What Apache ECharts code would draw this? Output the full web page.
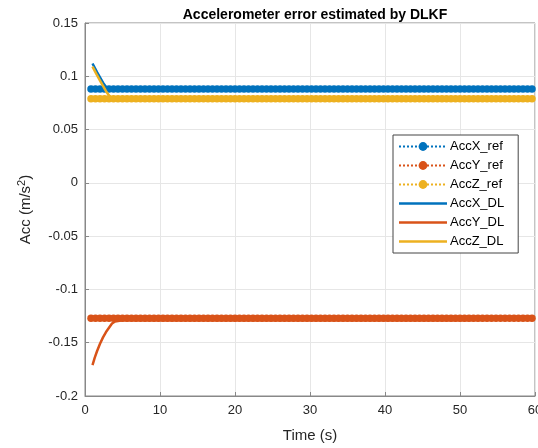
<!DOCTYPE html>
<html>
<head>
<meta charset="utf-8">
<script src="https://cdn.jsdelivr.net/npm/echarts@6/dist/echarts.min.js"></script>
<style>
html, body { margin: 0; padding: 0; background: #fff; }
#main { width: 538px; height: 448px; }
</style>
</head>
<body>
<div id="main"></div>
<script>
// reference values (constant levels)
var refX = 0.088;
var refY = -0.127;
var refZ = 0.079;
// sample times of the reference markers
var refStart = 0.8, refStep = 0.6, refEnd = 59.6;

// DL estimates: time points and values
var dlTime = [1, 1.3, 1.6, 2, 2.4, 2.8, 3.2, 3.6, 4, 5, 10, 20, 30, 40, 50, 59.6];
var dlX = [0.112, 0.108, 0.104, 0.099, 0.094, 0.090, 0.0885, 0.088, 0.088, 0.088, 0.088, 0.088, 0.088, 0.088, 0.088, 0.088];
var dlY = [-0.171, -0.164, -0.158, -0.151, -0.145, -0.140, -0.136, -0.132, -0.130, -0.129, -0.129, -0.129, -0.129, -0.129, -0.129, -0.128];
var dlZ = [0.109, 0.105, 0.101, 0.096, 0.091, 0.086, 0.082, 0.079, 0.078, 0.077, 0.077, 0.077, 0.077, 0.077, 0.077, 0.077];

var colors = ['#0072BD', '#D95319', '#EDB120'];

function refSeries(level) {
    var out = [];
    for (var t = refStart; t <= refEnd + 1e-9; t += refStep) {
        out.push([Math.round(t * 10) / 10, level]);
    }
    return out;
}
function pairs(xs, ys) {
    return xs.map(function (x, i) { return [x, ys[i]]; });
}

var myChart = echarts.init(document.getElementById('main'));

function refLine(name, level, color) {
    return {
        name: name, type: 'line', data: refSeries(level),
        symbol: 'circle', symbolSize: 7.5, showSymbol: true,
        itemStyle: { color: color },
        lineStyle: { color: color, width: 3, type: 'dotted' },
        animation: false, z: 2
    };
}
function dlLine(name, ys, color) {
    return {
        name: name, type: 'line', data: pairs(dlTime, ys),
        symbol: 'none', smooth: false,
        itemStyle: { color: color },
        lineStyle: { color: color, width: 2.5 },
        animation: false, z: 3
    };
}

var lineIcon = 'path://M0,0 L48,0 L48,2.5 L0,2.5 Z';

myChart.setOption({
    backgroundColor: '#fff',
    title: {
        text: 'Accelerometer error estimated by DLKF',
        left: 310, top: 3, textAlign: 'center',
        textStyle: { fontFamily: 'Liberation Sans', fontWeight: 'bold', fontSize: 14, color: '#000' }
    },
    grid: { left: 85, right: 3, top: 23, bottom: 52, show: true, borderColor: '#888', borderWidth: 1, outerBoundsMode: 'none', containLabel: false },
    legend: {
        orient: 'vertical', left: 393, top: 135,
        itemWidth: 48, itemHeight: 11, itemGap: 6,
        padding: [5, 14, 5, 5],
        borderColor: '#444', borderWidth: 1, backgroundColor: '#fff',
        textStyle: { fontFamily: 'Liberation Sans', fontSize: 13, color: '#000', padding: [0, 0, 0, -2] },
        data: [
            'AccX_ref', 'AccY_ref', 'AccZ_ref',
            { name: 'AccX_DL', icon: lineIcon },
            { name: 'AccY_DL', icon: lineIcon },
            { name: 'AccZ_DL', icon: lineIcon }
        ]
    },
    xAxis: {
        type: 'value', min: 0, max: 60, interval: 10,
        name: 'Time (s)', nameLocation: 'middle', nameGap: 32,
        nameTextStyle: { fontFamily: 'Liberation Sans', fontSize: 15, color: '#262626' },
        axisLine: { show: true, onZero: false, lineStyle: { color: '#888' } },
        axisTick: { show: true, inside: true, length: 4, lineStyle: { color: '#888' } },
        axisLabel: { fontFamily: 'Liberation Sans', fontSize: 13, color: '#262626', margin: 8 },
        splitLine: { show: true, lineStyle: { color: '#e6e6e6' } }
    },
    yAxis: {
        type: 'value', min: -0.2, max: 0.15, interval: 0.05,
        name: 'Acc (m/s{sup|2})', nameLocation: 'middle', nameGap: 50, nameRotate: 90,
        nameTextStyle: {
            fontFamily: 'Liberation Sans', fontSize: 15, color: '#262626',
            rich: { sup: { fontFamily: 'Liberation Sans', fontSize: 11, color: '#262626', verticalAlign: 'top', padding: [0, 0, 8, 0] } }
        },
        axisLine: { show: true, onZero: false, lineStyle: { color: '#888' } },
        axisTick: { show: true, inside: true, length: 4, lineStyle: { color: '#888' } },
        axisLabel: {
            fontFamily: 'Liberation Sans', fontSize: 13, color: '#262626', margin: 7,
            formatter: function (v) { return String(Math.round(v * 100) / 100); }
        },
        splitLine: { show: true, lineStyle: { color: '#e6e6e6' } }
    },
    series: [
        refLine('AccX_ref', refX, colors[0]),
        refLine('AccY_ref', refY, colors[1]),
        refLine('AccZ_ref', refZ, colors[2]),
        dlLine('AccX_DL', dlX, colors[0]),
        dlLine('AccY_DL', dlY, colors[1]),
        dlLine('AccZ_DL', dlZ, colors[2])
    ]
});

window.onresize = function () {
    myChart.resize();
};
</script>
</body>
</html>
